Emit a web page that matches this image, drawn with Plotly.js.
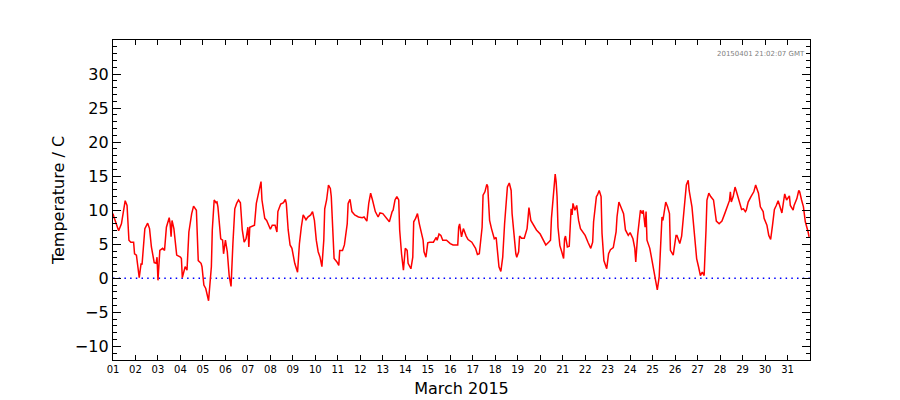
<!DOCTYPE html>
<html>
<head>
<meta charset="utf-8">
<script src="https://cdn.plot.ly/plotly-3.0.1.min.js"></script>
<style>html,body{margin:0;padding:0;background:#fff}#chart{width:900px;height:400px}</style>
</head>
<body>
<div id="chart"></div>
<script>
// Hours since 2015-03-01 00:00 GMT
const hours = [0,1,6,9,13,15,17,19,22,23,25,28,30,31,34,37,39,41,44,46,47,48,50,53,55,57,60,61,62,63,65,68,72,73,74,77,79,81,84,86,89,91,94,95,97,99,102,105,106,108,110,111,112,115,117,118,120,122,124,126,128,130,132,134,136,138,140,142,144,145,146,148,151,153,154,156,158,159,162,164,167,168,170,173,175,176,179,182,184,185,187,189,191,192,194,197,199,201,203,206,208,211,213,215,217,219,221,223,225,226,228,230,232,233,235,236,239,241,242,245,247,250,251,253,255,258,262,266,268,271,273,275,277,280,283,285,288,291,295,298,299,301,303,305,306,308,310,312,314,315,318,320,321,323,325,327,329,331,332,334,336,338,342,345,346,348,350,352,356,360,363,368,369,370,372,374,377,379,383,387,389,391,394,395,397,399,400,402,404,407,409,410,412,414,416,418,420,421,423,425,426,428,430,431,433,434,436,439,442,443,444,446,449,452,456,459,462,465,467,468,470,472,473,474,475,477,479,481,482,483,485,487,489,490,491,493,495,497,499,501,504,507,510,512,513,516,517,519,521,522,524,527,529,531,534,537,538,540,542,545,547,550,552,555,557,558,560,562,563,565,566,568,569,570,573,575,577,578,580,581,583,585,586,587,589,590,592,594,595,598,599,601,602,605,607,609,611,612,614,615,618,620,621,623,625,627,629,631,633,634,636,638,641,643,644,647,650,653,656,658,659,660,662,664,666,669,671,673,675,676,678,681,684,686,689,691,694,695,698,700,702,704,706,708,710,712,714,716,717,719,722,723,726,727,730,732,733,735,737,739,741,742,743];
const temps = [9.5,9.0,7.0,8.0,11.4,10.7,5.6,5.3,5.3,3.6,3.4,0.1,2.2,2.0,7.3,8.1,7.3,4.6,2.3,2.2,3.1,-0.3,4.1,4.4,4.1,7.5,8.9,8.0,6.1,8.5,7.3,3.4,3.1,2.9,0.1,1.7,1.2,6.8,9.5,10.6,10.0,2.6,2.2,1.7,-1.0,-1.5,-3.3,1.7,7.1,11.5,11.1,11.2,10.5,5.8,5.6,3.6,5.6,3.9,0.4,-1.2,5.1,10.2,11.0,11.5,11.1,7.1,5.3,5.8,7.5,4.6,7.5,7.6,7.8,11.0,11.7,13.2,14.2,11.5,8.8,8.5,7.5,7.2,7.8,7.8,6.8,9.8,10.9,11.1,11.6,11.0,7.1,4.9,4.4,3.4,2.2,0.9,5.1,7.5,9.3,8.6,9.0,9.3,9.8,8.5,5.6,3.9,3.1,1.7,5.6,10.2,11.5,13.7,13.2,12.0,6.6,2.9,2.4,1.9,4.1,4.1,4.9,8.0,11.0,11.6,9.8,9.3,9.0,8.9,9.0,8.4,11.0,12.5,11.5,9.8,9.0,9.6,9.5,9.0,8.3,9.8,10.0,11.5,12.0,11.5,7.1,3.6,1.2,4.4,4.1,2.2,1.4,3.1,8.3,8.8,9.5,8.0,6.8,5.6,3.9,3.1,5.2,5.3,5.3,6.0,5.6,6.5,6.3,5.6,5.6,5.1,4.9,4.9,7.5,8.0,6.1,7.3,6.2,5.7,5.3,4.4,3.5,3.6,7.5,12.2,12.7,13.8,13.5,8.5,7.3,5.8,6.0,4.1,1.7,1.0,3.1,8.0,12.0,13.4,14.0,12.9,9.5,6.1,3.6,3.1,3.9,6.2,5.9,5.9,7.3,8.8,10.4,8.5,7.8,7.1,6.5,5.6,4.9,5.3,5.6,8.8,12.2,15.3,14.2,12.0,7.5,4.8,3.9,2.9,5.8,6.2,4.6,4.7,10.2,9.3,11.0,10.0,10.7,8.5,7.3,6.9,6.3,5.3,4.4,5.3,8.3,12.0,12.2,12.9,12.0,6.6,2.6,1.4,3.6,4.2,4.5,6.8,9.0,11.2,10.5,9.5,7.1,6.3,6.7,5.8,4.4,2.4,6.3,8.3,10.0,9.5,10.0,7.5,9.8,5.6,4.4,2.9,1.4,0.7,-0.8,-1.7,0.2,6.1,9.0,8.5,10.0,11.2,10.5,9.5,4.1,3.4,4.4,6.3,6.3,5.1,6.2,9.5,12.5,13.7,14.4,12.9,10.5,7.5,4.9,2.9,1.7,0.4,0.9,0.4,7.1,11.5,12.5,12.0,11.5,8.8,8.4,8.0,8.4,9.5,10.7,11.4,12.7,11.2,12.0,13.4,12.5,11.0,10.1,10.2,9.8,10.0,11.2,12.0,12.7,13.7,12.5,10.5,9.8,8.8,7.8,6.3,5.7,7.8,10.1,10.7,11.4,10.5,9.6,11.5,12.4,11.5,12.1,10.7,10.0,10.7,11.7,12.9,12.7,11.5,10.5,8.3,7.5,6.8,6.1];
const zeroHours = [0, 744];
const zeroVals = [0, 0];
const dayLabels = ["01","02","03","04","05","06","07","08","09","10","11","12","13","14","15","16","17","18","19","20","21","22","23","24","25","26","27","28","29","30","31"];
const yTickVals = [-10, -5, 0, 5, 10, 15, 20, 25, 30];
const stamp = "20150401 21:02:07 GMT";
const xTitle = "March 2015";
const yTitle = "Temperature / C";

const start = Date.UTC(2015, 2, 1);
const toDate = h => new Date(start + h * 3600000).toISOString().slice(0, 19).replace('T', ' ');

const traces = [
  {x: zeroHours.map(toDate), y: zeroVals, mode: 'lines', line: {color: '#0000ff', width: 1.5, dash: '1.5px,4.2px'}, hoverinfo: 'skip'},
  {x: hours.map(toDate), y: temps, mode: 'lines', line: {color: '#ff0000', width: 1.5}}
];

const font = "'DejaVu Sans', sans-serif";
const layout = {
  width: 900, height: 400,
  margin: {l: 113, r: 90, t: 40, b: 40},
  paper_bgcolor: '#fff', plot_bgcolor: '#fff',
  showlegend: false,
  font: {family: font, color: '#000'},
  xaxis: {
    type: 'date',
    range: [toDate(0), toDate(744)],
    tickmode: 'array',
    tickvals: dayLabels.map((d, i) => toDate(i * 24)),
    ticktext: dayLabels,
    ticks: 'inside', ticklen: 5, tickwidth: 1, tickcolor: '#000',
    showline: true, linecolor: '#000', linewidth: 1.2, mirror: 'allticks',
    showgrid: false, zeroline: false,
    tickfont: {size: 10, family: font},
    title: {text: xTitle, font: {size: 16, family: font}, standoff: 8}
  },
  yaxis: {
    range: [-12, 35],
    tickmode: 'array', tickvals: yTickVals,
    ticktext: yTickVals.map(v => v < 0 ? '\u2212' + Math.abs(v) : String(v)),
    ticks: 'inside', ticklen: 8, tickwidth: 1, tickcolor: '#000',
    minor: {dtick: 1, tick0: 0, ticks: 'inside', ticklen: 4, tickcolor: '#000', tickwidth: 1},
    showline: true, linecolor: '#000', linewidth: 1.2, mirror: 'allticks',
    showgrid: false, zeroline: false,
    tickfont: {size: 16, family: font},
    title: {text: yTitle, font: {size: 16, family: font}, standoff: 6}
  },
  annotations: [{
    text: stamp, xref: 'paper', yref: 'paper', x: 0.995, y: 0.975,
    xanchor: 'right', yanchor: 'top', showarrow: false,
    font: {size: 7, color: '#808080', family: font}
  }]
};

Plotly.newPlot('chart', traces, layout, {staticPlot: true});
</script>
</body>
</html>
